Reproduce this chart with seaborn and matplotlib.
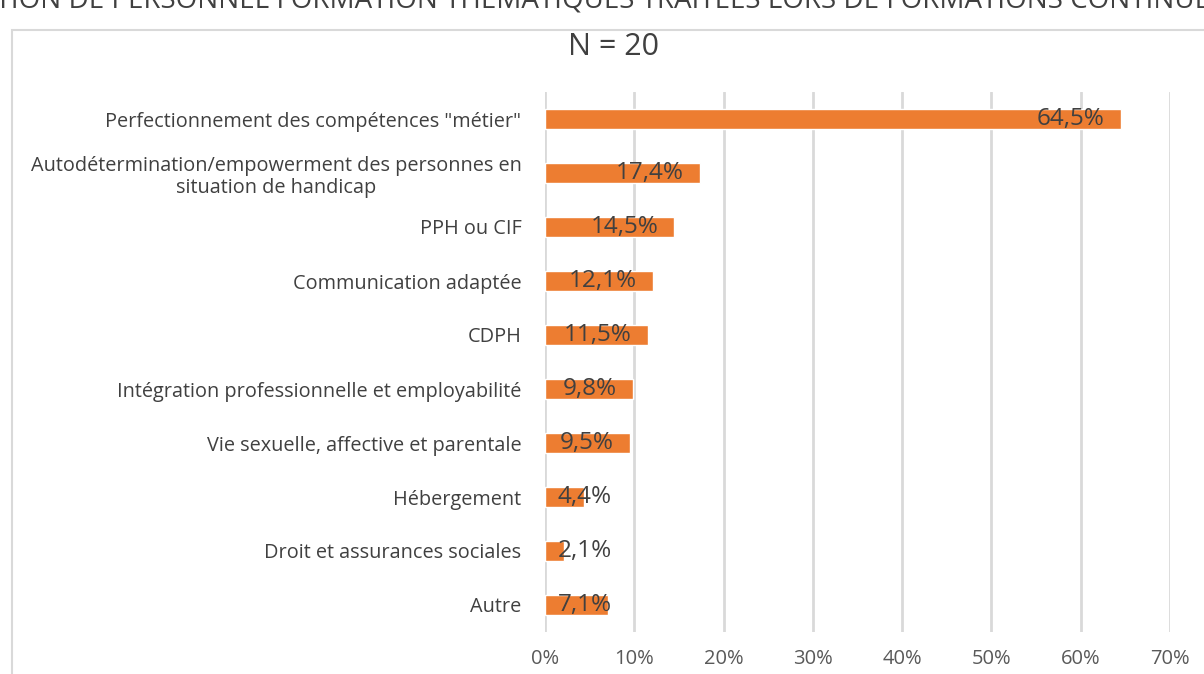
import matplotlib
matplotlib.use("Agg")
import matplotlib.pyplot as plt
import seaborn as sns
import pandas as pd
from matplotlib.patches import Rectangle

categories = [
    'Perfectionnement des compétences "métier"',
    "Autodétermination/empowerment des personnes en\nsituation de handicap",
    "PPH ou CIF",
    "Communication adaptée",
    "CDPH",
    "Intégration professionnelle et employabilité",
    "Vie sexuelle, affective et parentale",
    "Hébergement",
    "Droit et assurances sociales",
    "Autre",
]
values = [64.5, 17.4, 14.5, 12.1, 11.5, 9.8, 9.5, 4.4, 2.1, 7.1]
value_labels = ["64,5%", "17,4%", "14,5%", "12,1%", "11,5%", "9,8%", "9,5%", "4,4%", "2,1%", "7,1%"]
x_ticks = [0, 10, 20, 30, 40, 50, 60, 70]
x_tick_labels = ["0%", "10%", "20%", "30%", "40%", "50%", "60%", "70%"]
title = "N = 20"
top_text = "ATION DE PERSONNEL FORMATION THÉMATIQUES TRAITÉES LORS DE FORMATIONS CONTINUES"

sns.set_theme(style="white")
plt.rcParams["font.family"] = ["Open Sans", "DejaVu Sans"]

df = pd.DataFrame({"cat": categories, "val": values})

fig = plt.figure(figsize=(12.04, 6.74), dpi=100)
ax = fig.add_axes([545 / 1204, 1 - 632 / 674, (1170 - 545) / 1204, (632 - 92) / 674])

# chart frame border
fig.patches.append(Rectangle((12 / 1204, -0.05), 1.2, 1 - 30 / 674 + 0.05,
                             transform=fig.transFigure, fill=False,
                             edgecolor="#d9d9d9", linewidth=1.5))
# clipped header text at the very top (only its lower part is visible)
fig.text(0.5, 1 - 8 / 674, top_text, ha="center", va="baseline", fontsize=20,
         color="#404040")

sns.barplot(data=df, x="val", y="cat", orient="h", color="#ED7D31",
            saturation=1, width=0.37, ax=ax, zorder=3)

ax.set_xlim(0, 70)
ax.set_ylim(len(categories) - 0.5, -0.5)
ax.set_xticks(x_ticks)
ax.set_xticklabels(x_tick_labels, fontsize=14.5, color="#595959")
ax.tick_params(axis="x", length=0, pad=12)
ax.tick_params(axis="y", length=0, pad=17)
for lbl in ax.get_yticklabels():
    lbl.set_fontsize(14.3)
    lbl.set_color("#404040")
    lbl.set_multialignment("center")
ax.set_xlabel("")
ax.set_ylabel("")
ax.grid(axis="x", color="#d9d9d9", linewidth=2, zorder=0)
ax.grid(axis="y", visible=False)
for s in ax.spines.values():
    s.set_visible(False)

for i, (v, lab) in enumerate(zip(values, value_labels)):
    xr = max(v - 1.8, 7.5)
    ax.text(xr, i, lab, ha="right", va="center", fontsize=17.5,
            color="#404040", zorder=4)

fig.text(613 / 1204, 1 - 47 / 674, title, ha="center", va="center",
         fontsize=22, color="#404040")

fig.savefig("out.png", dpi=100)
